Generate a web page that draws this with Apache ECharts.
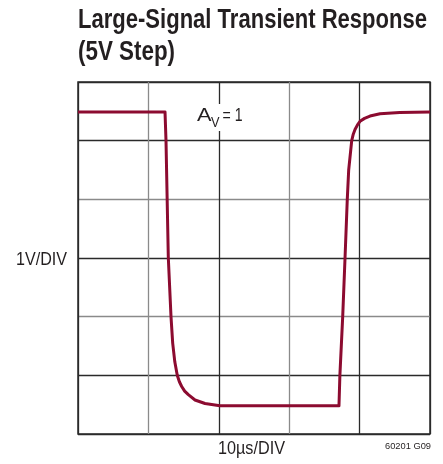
<!DOCTYPE html>
<html>
<head>
<meta charset="utf-8">
<script src="https://cdn.jsdelivr.net/npm/echarts@6/dist/echarts.min.js"></script>
<style>
  html, body { margin: 0; padding: 0; background: #fff; }
  #chart { width: 443px; height: 464px; }
</style>
</head>
<body>
<div id="chart"></div>
<script>
// time in microseconds (10us/div, 5 divs), output in volts (1V/div, 6 divs)
const timeUs = [0, 12.36, 12.5, 12.83, 13.21, 13.45, 13.75, 14.1, 14.4, 14.73, 15.15, 15.67, 16.62, 18.04, 20.17, 30.0, 37.07,
                37.2, 37.6, 37.93, 38.25, 38.45, 38.88, 39.1, 39.35, 39.7, 40.06, 40.7, 41.48, 42.9, 45.7, 50.0];
const voltsOut = [5.49, 5.49, 5.0, 3.0, 2.0, 1.55, 1.23, 1.0, 0.89, 0.81, 0.73, 0.67, 0.58, 0.52, 0.48, 0.48, 0.48,
                  1.0, 2.0, 3.0, 4.0, 4.5, 5.0, 5.11, 5.19, 5.27, 5.33, 5.38, 5.42, 5.46, 5.48, 5.49];

const xTicks = [0, 10, 20, 30, 40, 50];
const yTicks = [0, 1, 2, 3, 4, 5, 6];

const dark = '#2a2a2a';
const gray = '#8a8a8a';
const ink = '#231f20';
const family = '"Liberation Sans", Arial, sans-serif';

// squeeze text horizontally to mimic the condensed face of the original
const measureCtx = document.createElement('canvas').getContext('2d');
function label(text, x, y, size, weight, width, extra) {
  const font = weight + ' ' + size + 'px ' + family;
  measureCtx.font = font;
  const s = width / measureCtx.measureText(text).width;
  return Object.assign({
    type: 'text',
    x: x, y: y,
    scaleX: s,
    originX: 0, originY: 0,
    style: { text: text, font: font, fill: ink, align: 'left', verticalAlign: 'middle' }
  }, extra || {});
}

const chart = echarts.init(document.getElementById('chart'));
chart.setOption({
  animation: false,
  grid: {
    left: 78,
    top: 82,
    width: 352,
    height: 352,
    show: true,
    borderColor: dark,
    borderWidth: 1.5
  },
  xAxis: {
    type: 'value',
    min: xTicks[0],
    max: xTicks[xTicks.length - 1],
    interval: 10,
    axisLine: { show: false },
    axisTick: { show: false },
    axisLabel: { show: false },
    splitLine: {
      lineStyle: { color: [dark, gray, dark, gray, dark, dark], width: 1.3 }
    }
  },
  yAxis: {
    type: 'value',
    min: yTicks[0],
    max: yTicks[yTicks.length - 1],
    interval: 1,
    axisLine: { show: false },
    axisTick: { show: false },
    axisLabel: { show: false },
    splitLine: {
      lineStyle: { color: [dark, dark, gray, dark, gray, dark, dark], width: 1.3 }
    }
  },
  series: [{
    type: 'line',
    data: timeUs.map((t, i) => [t, voltsOut[i]]),
    showSymbol: false,
    smooth: false,
    lineStyle: { color: '#8c0b30', width: 3, join: 'round' },
    z: 5
  }],
  graphic: [
    label('Large-Signal Transient Response', 78, 21, 27, 'bold', 349),
    label('(5V Step)', 78, 53, 27, 'bold', 97),
    label('1V/DIV', 16, 259.5, 19, 'normal', 51),
    label('10µs/DIV', 218, 449, 19, 'normal', 67),
    label('60201 G09', 385, 446, 9.5, 'normal', 46),
    {
      type: 'rect',
      shape: { x: 193, y: 104, width: 53, height: 27 },
      style: { fill: '#fff' },
      z: 8
    },
    label('A', 197, 116.5, 18, 'normal', 14.5, { z: 10 }),
    label('V', 211, 123, 14, 'normal', 8.5, { z: 10 }),
    label('= 1', 222.5, 116.5, 18, 'normal', 20, { z: 10 })
  ]
});
</script>
</body>
</html>
